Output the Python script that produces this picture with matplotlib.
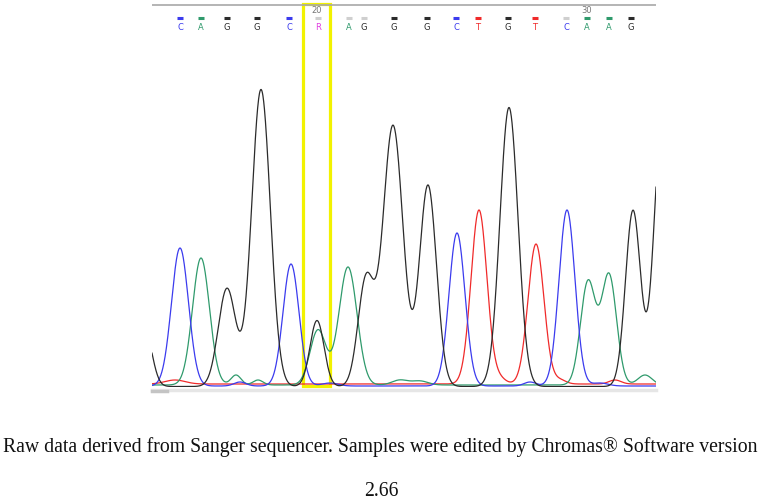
import matplotlib.pyplot as plt
import numpy as np

# trace peaks: scan position, peak height, width (sigma)
g_pos = [145, 227, 261, 317, 366, 393, 428, 509, 633, 662]
g_hgt = [55, 98, 297, 66, 106, 261, 201, 279, 176, 262]
g_sig = [7, 8.7, 9.3, 7, 8, 10, 8.5, 9, 7.5, 8]

c_pos = [180, 291, 457, 567, 240, 330, 530, 600]
c_hgt = [138, 122, 153, 176, 4, 3, 4, 3]
c_sig = [8.5, 8, 8, 8, 6, 8, 6, 8]

a_pos = [201, 236, 258, 318, 348, 400, 420, 588, 609, 645]
a_hgt = [127, 10, 5, 55, 118, 5, 4, 103, 110, 10]
a_sig = [8.5, 5, 5, 8, 9, 8, 8, 7.5, 7.5, 7]

t_pos = [479, 536, 175, 500, 560, 615]
t_hgt = [174, 140, 4, 5, 4, 4]
t_sig = [8, 8, 10, 6, 6, 6]

# base calls
calls = ["C", "A", "G", "G", "C", "R", "A", "G", "G", "G",
         "C", "T", "G", "T", "C", "A", "A", "G"]
call_pos = [180, 201, 227, 257, 289, 318, 349, 364, 394, 427,
            456, 478, 508, 535, 566, 587, 609, 631]
low_quality = [5, 6, 7, 14]
tick_labels = {"20": 317, "30": 587}

colors = {"G": "#2b2b2b", "C": "#3b3bee", "A": "#2f9a6c", "T": "#f02a2a", "R": "#e040e0"}
baseline = {"G": 0.5, "C": 1.0, "A": 2.0, "T": 3.0}

fig = plt.figure(figsize=(7.63, 5.0), dpi=100)

# overlay in figure pixels
ov = fig.add_axes([0, 0, 1, 1])
ov.set_xlim(0, 763)
ov.set_ylim(500, 0)
ov.axis("off")

x0, x1 = 152, 656
ax = fig.add_axes([x0 / 763, (500 - 387) / 500, (x1 - x0) / 763, (387 - 80) / 500])
ax.set_xlim(x0, x1)
ax.set_ylim(0, 307)
ax.axis("off")

x = np.linspace(x0, x1, 2000)


def trace(pos, hgt, sig, base):
    y = np.full_like(x, base)
    for p, h, s in zip(pos, hgt, sig):
        y += h * np.exp(-(x - p) ** 2 / (2 * s ** 2))
    return y


ax.plot(x, trace(t_pos, t_hgt, t_sig, baseline["T"]), color=colors["T"], lw=0.9)
ax.plot(x, trace(a_pos, a_hgt, a_sig, baseline["A"]), color=colors["A"], lw=0.9)
ax.plot(x, trace(c_pos, c_hgt, c_sig, baseline["C"]), color=colors["C"], lw=0.9)
ax.plot(x, trace(g_pos, g_hgt, g_sig, baseline["G"]), color=colors["G"], lw=0.9)

# header
hd = fig.add_axes([x0 / 763, (500 - 35) / 500, (x1 - x0) / 763, 35 / 500])
hd.set_xlim(x0, x1)
hd.set_ylim(35, 0)
hd.axis("off")
hd.plot([x0, x1], [5, 5], color="#a8a8a8", lw=1.2)
for lab, p in tick_labels.items():
    hd.text(p, 10.5, lab, ha="center", va="center", fontsize=6, color="#777777")
for i, (b, p) in enumerate(zip(calls, call_pos)):
    mcol = "#cfcfcf" if i in low_quality else colors.get(b, "#2b2b2b")
    hd.plot([p - 3, p + 3], [18, 18], color=mcol, lw=2.2, solid_capstyle="butt")
    hd.text(p, 27, b, ha="center", va="center", fontsize=6, color=colors[b])

# scrollbar strip under traces
ov.plot([x0, x1], [390, 390], color="#e6e6e6", lw=2.5)
ov.plot([x0, 167], [391, 391], color="#c4c4c4", lw=2.5)

# highlighted ambiguous base
ov.add_patch(plt.Rectangle((302.5, 4), 27, 382, fill=False, edgecolor="#f2f200", lw=2.3))

ov.text(380, 447, "Raw data derived from Sanger sequencer. Samples were edited by Chromas\u00ae Software version",
        ha="center", va="center", fontsize=14.2, family="Liberation Serif", color="#111111")
ov.text(381, 491, "2.66", ha="center", va="center", fontsize=14.2, family="Liberation Serif", color="#111111")

fig.savefig("out.png", dpi=100)
